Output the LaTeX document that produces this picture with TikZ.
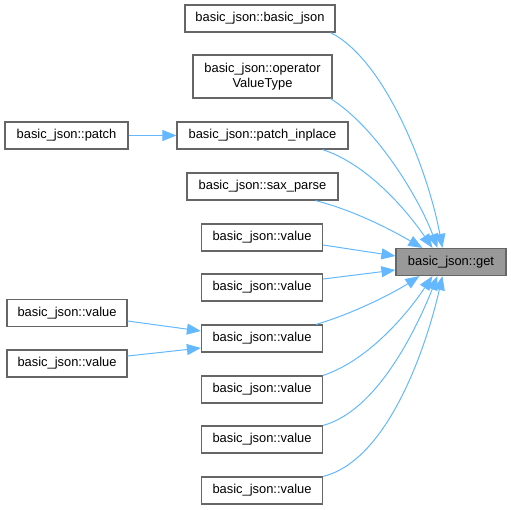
\documentclass[tikz,border=0pt]{standalone}
\usepackage{fontspec}
\setmainfont{Liberation Sans}
\usetikzlibrary{arrows.meta}
\definecolor{edgeblue}{HTML}{63B8FF}
\definecolor{boxborder}{HTML}{666666}
\definecolor{getfill}{HTML}{999999}
\begin{document}
\begin{tikzpicture}[x=1pt,y=-1pt,
  fnbox/.style={draw=boxborder,line width=1.2pt,fill=white,inner sep=0pt,
    font=\fontsize{12.9}{15}\selectfont,align=center,minimum height=27pt},
  callarrow/.style={draw=edgeblue,line width=1pt,-{Triangle[length=14pt,width=11pt]}}
]
\useasboundingbox (0,0) rectangle (511,509);
\node[fnbox,fill=getfill,minimum width=110pt] (get) at (451,262) {basic\_json::get};
\node[fnbox,minimum width=150pt] (bj) at (260,18.5) {basic\_json::basic\_json};
\node[fnbox,minimum width=139pt,minimum height=43pt] (op) at (262.5,76.5) {basic\_json::operator\\ValueType};
\node[fnbox,minimum width=123pt] (patch) at (66.5,135.5) {basic\_json::patch};
\node[fnbox,minimum width=171pt] (pin) at (262.5,135.5) {basic\_json::patch\_inplace};
\node[fnbox,minimum width=151pt] (sax) at (262.5,186.5) {basic\_json::sax\_parse};
\node[fnbox,minimum width=121pt] (v1) at (262,237.5) {basic\_json::value};
\node[fnbox,minimum width=121pt] (v2) at (262,287.5) {basic\_json::value};
\node[fnbox,minimum width=121pt] (v3) at (262,338.5) {basic\_json::value};
\node[fnbox,minimum width=120pt] (la) at (67,313) {basic\_json::value};
\node[fnbox,minimum width=120pt] (lb) at (67,363.5) {basic\_json::value};
\node[fnbox,minimum width=121pt] (v4) at (262,389.5) {basic\_json::value};
\node[fnbox,minimum width=121pt] (v5) at (262,439.5) {basic\_json::value};
\node[fnbox,minimum width=121pt] (v6) at (262,490.5) {basic\_json::value};
% edges into get
\draw[callarrow] ([xshift=-5pt]bj.south east) .. controls (385,60) and (428,170) .. ([xshift=47pt]get.north west);
\draw[callarrow] ([xshift=-2pt]op.south east) .. controls (380,130) and (422,205) .. ([xshift=42pt]get.north west);
\draw[callarrow] ([xshift=-26pt]pin.south east) .. controls (370,165) and (410,215) .. ([xshift=37pt]get.north west);
\draw[callarrow] ([xshift=-23pt]sax.south east) .. controls (360,212) and (400,235) .. ([xshift=27pt]get.north west);
\draw[callarrow] ([yshift=-7.5pt]v1.east) -- ([yshift=6pt]get.west);
\draw[callarrow] ([yshift=8.5pt]v2.east) -- ([yshift=-8pt]get.west);
\draw[callarrow] ([xshift=-7pt]v3.north east) .. controls (355,313) and (395,292) .. ([xshift=24pt]get.south west);
\draw[callarrow] (v4.north east) .. controls (370,360) and (410,310) .. ([xshift=37pt]get.south west);
\draw[callarrow] (v5.north east) .. controls (380,410) and (420,320) .. ([xshift=42pt]get.south west);
\draw[callarrow] (v6.north east) .. controls (390,460) and (428,340) .. ([xshift=47pt]get.south west);
% other edges
\draw[callarrow] (patch.east) -- (pin.west);
\draw[callarrow] ([yshift=-8pt]la.east) -- ([yshift=7.5pt]v3.west);
\draw[callarrow] ([yshift=7.5pt]lb.east) -- ([yshift=-9.5pt]v3.west);
\end{tikzpicture}
\end{document}
